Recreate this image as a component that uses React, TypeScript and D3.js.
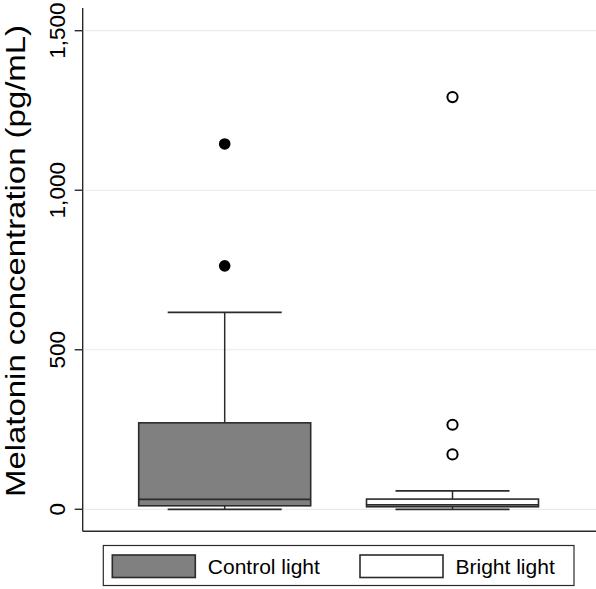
import React from "react";
import * as d3 from "d3";

const categories = ["Control light", "Bright light"];
const q1Values = [11, 8];
const medianValues = [31, 14];
const q3Values = [271, 32];
const whiskerLow = [0, 0];
const whiskerHigh = [617, 58];
const outliersControl = [763, 1145];
const outliersBright = [172, 265, 1292];
const yTicks = [0, 500, 1000, 1500];
const yTickLabels = ["0", "500", "1,000", "1,500"];
const yTitle = "Melatonin concentration (pg/mL)";

const W = 596;
const H = 589;
const FONT = "'Liberation Sans', Arial, Helvetica, sans-serif";
const DARK = "#2b2b2b";

export default function App() {
  const y = d3.scaleLinear().domain([0, 1500]).range([509.3, 30.7]);
  const x = d3
    .scaleBand<string>()
    .domain(categories)
    .range([110.8, 566.4])
    .paddingInner(0.245)
    .paddingOuter(0.1225);
  const bw = x.bandwidth();
  const capW = bw * 0.663;
  const axisX = 82.7;
  const axisY = 531.3;
  const fills = ["#808080", "#ffffff"];
  const outliers = [outliersControl, outliersBright];

  return (
    <svg
      width={W}
      height={H}
      style={{ position: "absolute", left: 0, top: 0, background: "#fff" }}
    >
      {yTicks.map((t) => (
        <line
          key={"g" + t}
          x1={axisX + 2}
          x2={W}
          y1={y(t)}
          y2={y(t)}
          stroke="#e3ecef"
          strokeWidth={1.2}
        />
      ))}
      {categories.map((c, i) => {
        const x0 = x(c) as number;
        const cx = x0 + bw / 2;
        return (
          <g key={c}>
            <line x1={cx} x2={cx} y1={y(q3Values[i])} y2={y(whiskerHigh[i])} stroke={DARK} strokeWidth={1.5} />
            <line x1={cx} x2={cx} y1={y(q1Values[i])} y2={y(whiskerLow[i])} stroke={DARK} strokeWidth={1.5} />
            <line x1={cx - capW / 2} x2={cx + capW / 2} y1={y(whiskerHigh[i])} y2={y(whiskerHigh[i])} stroke={DARK} strokeWidth={1.8} />
            <line x1={cx - capW / 2} x2={cx + capW / 2} y1={y(whiskerLow[i])} y2={y(whiskerLow[i])} stroke={DARK} strokeWidth={1.8} />
            <rect
              x={x0}
              y={y(q3Values[i])}
              width={bw}
              height={y(q1Values[i]) - y(q3Values[i])}
              fill={fills[i]}
              stroke={DARK}
              strokeWidth={1.6}
            />
            <line x1={x0} x2={x0 + bw} y1={y(medianValues[i])} y2={y(medianValues[i])} stroke={DARK} strokeWidth={1.8} />
            {outliers[i].map((v, k) =>
              i === 0 ? (
                <circle key={k} cx={cx} cy={y(v)} r={5.8} fill="#000" />
              ) : (
                <circle key={k} cx={cx} cy={y(v)} r={5.1} fill="none" stroke="#000" strokeWidth={2} />
              )
            )}
          </g>
        );
      })}
      <line x1={axisX} x2={axisX} y1={8} y2={axisY} stroke={DARK} strokeWidth={1.4} />
      <line x1={axisX} x2={W} y1={axisY} y2={axisY} stroke={DARK} strokeWidth={1.4} />
      {yTicks.map((t, i) => (
        <g key={"t" + t}>
          <line x1={axisX - 8} x2={axisX} y1={y(t)} y2={y(t)} stroke={DARK} strokeWidth={1.4} />
          <text
            transform={`translate(64.5,${y(t)}) rotate(-90)`}
            textAnchor="middle"
            fontFamily={FONT}
            fontSize={22.5}
            fill="#000"
          >
            {yTickLabels[i]}
          </text>
        </g>
      ))}
      <text
        transform={`translate(24.5,261) rotate(-90)`}
        textAnchor="middle"
        fontFamily={FONT}
        fontSize={28.5}
        textLength={472}
        lengthAdjust="spacingAndGlyphs"
        fill="#000"
      >
        {yTitle}
      </text>
      <rect x={103.3} y={545.5} width={470.7} height={40} fill="#fff" stroke={DARK} strokeWidth={1.2} />
      {categories.map((c, i) => {
        const sx = [112.3, 360][i];
        return (
          <g key={"l" + c}>
            <rect x={sx} y={555} width={83} height={22.5} fill={fills[i]} stroke={DARK} strokeWidth={1.6} />
            <text x={sx + 95.5} y={574.3} fontFamily={FONT} fontSize={21} fill="#000">
              {c}
            </text>
          </g>
        );
      })}
    </svg>
  );
}
